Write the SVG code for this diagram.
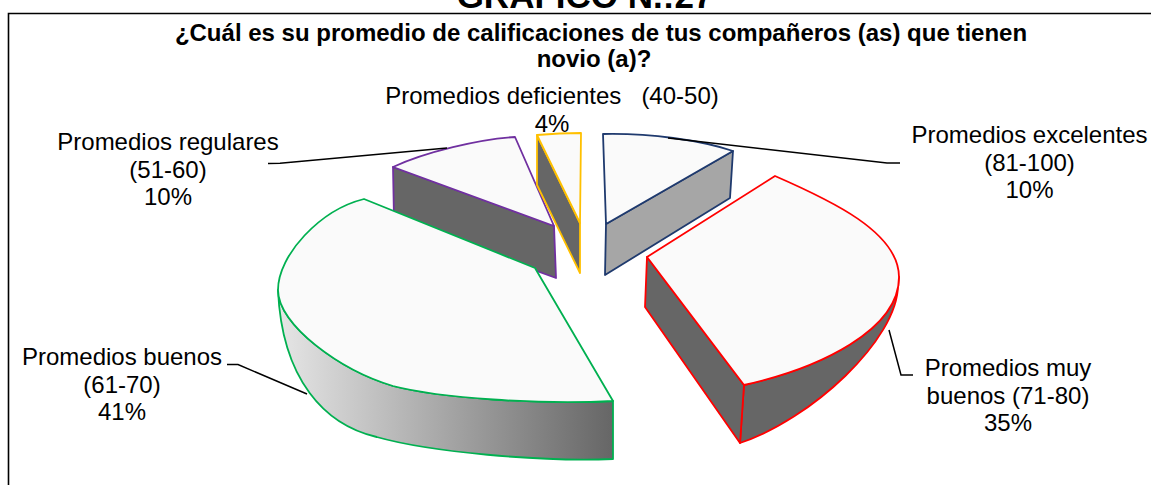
<svg xmlns="http://www.w3.org/2000/svg" width="1151" height="485" viewBox="0 0 1151 485">
<style>
text{font-family:"Liberation Sans",Arial,sans-serif;fill:#000}
.lbl{font-size:24px;text-anchor:middle}
.ttl{font-size:24px;font-weight:bold;text-anchor:middle}
.top{fill:#FAFAFA}
.dark{fill:#666666}
.s{stroke-width:1.8;stroke-linejoin:round}
.blue{stroke:#1F3A6E}
.red{stroke:#FF0000}
.green{stroke:#00B050}
.purple{stroke:#7030A0}
.yellow{stroke:#FFC000}
.lead{fill:none;stroke:#000;stroke-width:1.5}
</style>
<defs>
<linearGradient id="gGreen" gradientUnits="userSpaceOnUse" x1="278" y1="0" x2="613" y2="0">
<stop offset="0" stop-color="#E6E6E6"/>
<stop offset="1" stop-color="#666666"/>
</linearGradient>
</defs>
<rect width="1151" height="485" fill="#FFFFFF"/>
<text x="585" y="8" style="font-size:35px;font-weight:bold;text-anchor:middle">GRÁFICO N.:27</text>
<path d="M8.5,485 V13.5 H1151" fill="none" stroke="#000" stroke-width="1.6"/>
<text class="ttl" x="601" y="41">¿Cuál es su promedio de calificaciones de tus compañeros (as) que tienen</text>
<text class="ttl" x="594" y="67">novio (a)?</text>

<g id="slice-regulares">
<path class="dark s purple" d="M393,167 L554,226 L556,278 L394,219 Z"/>
<path class="top s purple" d="M393,167 C425,152 480,139 515,137 L554,226 Z"/>
</g>
<g id="slice-deficientes">
<path class="dark s yellow" d="M537,135 L580,223 L580,273 L537,185 Z"/>
<path class="top s yellow" d="M537,135 Q560,133 581,133 L580,223 Z"/>
</g>
<g id="slice-excelentes">
<path class="s blue" fill="#A6A6A6" d="M606,224 L733,151 L730,198 L605,275 Z"/>
<path class="top s blue" d="M603,134 C650,133 700,140 733,151 L606,224 Z"/>
</g>
<g id="slice-muybuenos">
<path class="dark s red" d="M899,277 C899,330 820,368 744,385 L740,443 C810,420 898,340 898,285 Z"/>
<path class="dark s red" d="M647,257 L744,385 L740,443 L645,307 Z"/>
<path class="top s red" d="M647,257 L775,176 C830,200 899,232 899,277 C899,330 820,368 744,385 Z"/>
</g>
<g id="slice-buenos">
<path class="s green" fill="url(#gGreen)" d="M278,290 C278,325 340,370 393,386 C440,398 540,405 613,401 L613,459 C540,462 430,452 376.7,437 C325,425 282,380 278,290 Z"/>
<path class="top s green" d="M364,199 L535,268 L613,401 C540,405 440,398 393,386 C340,370 278,325 278,290 C278,255 320,210 364,199 Z"/>
</g>

<g id="connectors">
<polyline class="lead" points="668,138 887,163 900,163"/>
<polyline class="lead" points="268,163.5 280,163.3 447,148"/>
<polyline class="lead" points="227,364.5 238,364.5 307,394"/>
<polyline class="lead" points="889,330 901,375 913,375"/>
</g>

<g id="label-deficientes">
<text class="lbl" x="552" y="104" style="white-space:pre">Promedios deficientes   (40-50)</text>
<text class="lbl" x="552" y="131.5">4%</text>
</g>
<g id="label-regulares">
<text class="lbl" x="168" y="150">Promedios regulares</text>
<text class="lbl" x="168" y="177.5">(51-60)</text>
<text class="lbl" x="168" y="205">10%</text>
</g>
<g id="label-excelentes">
<text class="lbl" x="1029.5" y="143">Promedios excelentes</text>
<text class="lbl" x="1029.5" y="170.5">(81-100)</text>
<text class="lbl" x="1029.5" y="198">10%</text>
</g>
<g id="label-buenos">
<text class="lbl" x="122" y="365">Promedios buenos</text>
<text class="lbl" x="122" y="392.5">(61-70)</text>
<text class="lbl" x="122" y="420">41%</text>
</g>
<g id="label-muybuenos">
<text class="lbl" x="1008" y="376">Promedios muy</text>
<text class="lbl" x="1008" y="403.5">buenos (71-80)</text>
<text class="lbl" x="1008" y="431">35%</text>
</g>
</svg>
